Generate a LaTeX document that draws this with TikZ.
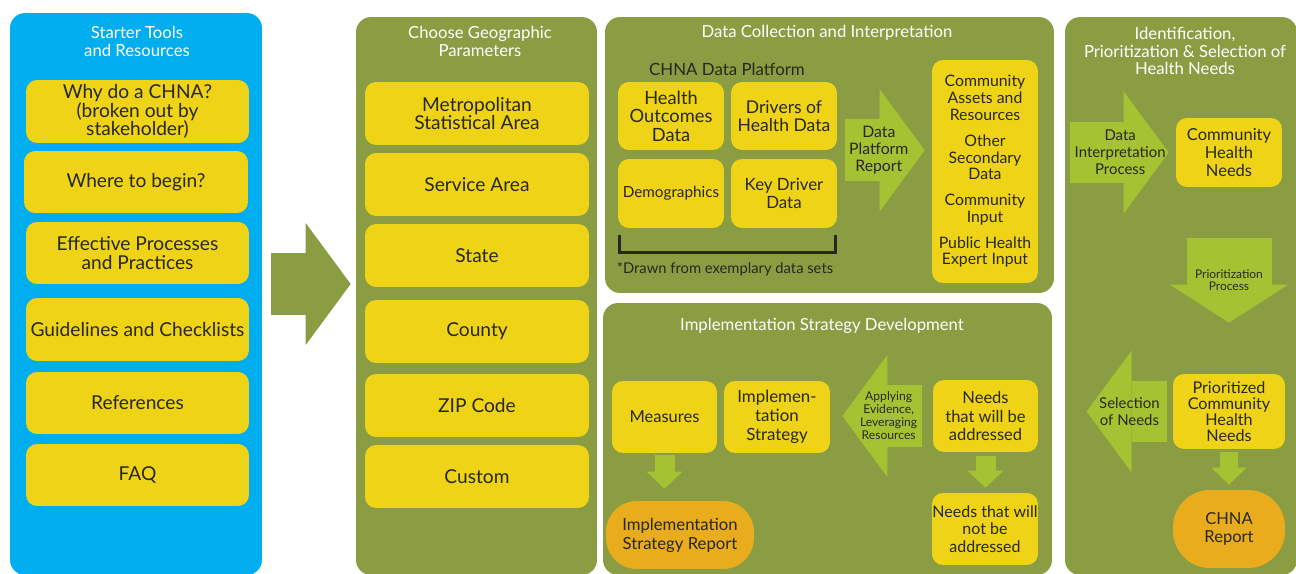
\documentclass[tikz,border=0pt]{standalone}
\usepackage{fontspec}
\setmainfont{Lato}
\usetikzlibrary{arrows.meta}
\definecolor{skyblue}{RGB}{0,174,239}
\definecolor{panelgreen}{RGB}{138,157,66}
\definecolor{leaf}{RGB}{165,194,50}
\definecolor{gold}{RGB}{239,211,22}
\definecolor{amber}{RGB}{232,172,28}
\definecolor{ink}{RGB}{40,40,30}
\tikzstyle{panel} = [rounded corners=0.3cm, inner sep=0pt]
\tikzstyle{title} = [text=white, align=center, inner sep=0pt, font=\fontsize{9.5}{10.2}\selectfont]
\tikzstyle{ybox} = [fill=gold, rounded corners=0.22cm, text=ink, align=center, inner sep=0pt, font=\fontsize{10.9}{10.5}\selectfont]
\tikzstyle{report} = [ybox, fill=amber, rounded corners=0.62cm]
\tikzstyle{arrowtext} = [text=ink, align=center, inner sep=0pt, font=\fontsize{9}{9.6}\selectfont]
\tikzstyle{bigarrow} = [draw=leaf, line width=1.24cm, -{Triangle[width=2.44cm,length=0.9cm,line width=0pt]}]
\tikzstyle{smallarrow} = [draw=leaf, line width=0.4cm, -{Triangle[width=0.72cm,length=0.34cm,line width=0pt]}]

\begin{document}
\begin{tikzpicture}[x=0.02cm, y=-0.02cm]
    \useasboundingbox (0,0) rectangle (1296,574);
    \clip (0,0) rectangle (1296,574);
    \fill[white] (0,0) rectangle (1296,574);
    % panels
    \node[panel, fill=skyblue, minimum width=5.04cm, minimum height=11.24cm] (starter) at (136,294) {};
    \node[panel, fill=panelgreen, minimum width=4.82cm, minimum height=11.16cm] (geo) at (476.5,296) {};
    \node[panel, fill=panelgreen, minimum width=8.98cm, minimum height=5.52cm] (datacol) at (829.5,155) {};
    \node[panel, fill=panelgreen, minimum width=8.98cm, minimum height=5.44cm] (impl) at (827.5,439) {};
    \node[panel, fill=panelgreen, minimum width=4.64cm, minimum height=11.16cm] (ident) at (1181,296) {};
    \node[title] (startertitle) at (137,41) {Starter Tools\\and Resources};
    \node[title] (geotitle) at (480,41) {Choose Geographic\\Parameters};
    \node[title] (datacoltitle) at (827,32.5) {Data Collection and Interpretation};
    \node[title] (impltitle) at (822,325.5) {Implementation Strategy Development};
    \node[title] (identtitle) at (1185,51) {Identification,\\Prioritization \& Selection of\\Health Needs};
    % starter tools
    \node[ybox, minimum width=4.46cm, minimum height=1.26cm] (why) at (137.5,111.5) {Why do a CHNA?\\(broken out by\\stakeholder)};
    \node[ybox, minimum width=4.48cm, minimum height=1.24cm] (where) at (136,182) {Where to begin?};
    \node[ybox, minimum width=4.46cm, minimum height=1.24cm] (effective) at (137.5,253) {Effective Processes\\and Practices};
    \node[ybox, minimum width=4.46cm, minimum height=1.26cm] (guide) at (137.5,329.5) {Guidelines and Checklists};
    \node[ybox, minimum width=4.46cm, minimum height=1.24cm] (refs) at (137.5,403) {References};
    \node[ybox, minimum width=4.46cm, minimum height=1.24cm] (faq) at (137.5,475) {FAQ};
    % geographic parameters
    \node[ybox, minimum width=4.48cm, minimum height=1.26cm] (msa) at (477,113.5) {Metropolitan\\Statistical Area};
    \node[ybox, minimum width=4.48cm, minimum height=1.26cm] (service) at (477,184.5) {Service Area};
    \node[ybox, minimum width=4.48cm, minimum height=1.26cm] (state) at (477,255.5) {State};
    \node[ybox, minimum width=4.48cm, minimum height=1.26cm] (county) at (477,331.5) {County};
    \node[ybox, minimum width=4.48cm, minimum height=1.26cm] (zip) at (477,405.5) {ZIP Code};
    \node[ybox, minimum width=4.48cm, minimum height=1.26cm] (custom) at (477,476.5) {Custom};
    \draw[bigarrow, draw=panelgreen, shorten <=0.18cm, shorten >=0.1cm] ([yshift=0.2cm]starter.east) -- ([yshift=0.2cm]starter.east -| geo.west);
    % data collection
    \node[text=ink, inner sep=0pt, font=\fontsize{9.6}{10}\selectfont] (platform) at (727,69) {CHNA Data Platform};
    \node[ybox, minimum width=2.12cm, minimum height=1.36cm, font=\fontsize{10.4}{10.5}\selectfont] (hod) at (671,116) {Health\\Outcomes\\Data};
    \node[ybox, minimum width=2.12cm, minimum height=1.36cm, font=\fontsize{10}{10.5}\selectfont] (dhd) at (784,116) {Drivers of\\Health Data};
    \node[ybox, minimum width=2.12cm, minimum height=1.38cm, font=\fontsize{8.7}{10}\selectfont] (demo) at (671,193.5) {Demographics};
    \node[ybox, minimum width=2.12cm, minimum height=1.38cm, font=\fontsize{9.6}{10.2}\selectfont] (kdd) at (784,193.5) {Key Driver\\Data};
    \draw[ink, line width=0.06cm] (619,235) -- (619,253) -- (835,253) -- (835,235);
    \node[text=ink, inner sep=0pt, font=\fontsize{8.4}{9}\selectfont] (drawn) at (725,269) {*Drawn from exemplary data sets};
    \node[ybox, minimum width=2.12cm, minimum height=4.46cm, font=\fontsize{9}{9.6}\selectfont] (other) at (985,171.5)
        {Community\\Assets and\\Resources\\[5pt]Other\\Secondary\\Data\\[5pt]Community\\Input\\[5pt]Public Health\\Expert Input};
    \draw[bigarrow, shorten <=0.16cm, shorten >=0.14cm] (dhd.south east) -- node[arrowtext, pos=0.44] (dpr) {Data\\Platform\\Report} (dhd.south east -| other.west);
    % implementation strategy
    \node[ybox, minimum width=2.1cm, minimum height=1.44cm, font=\fontsize{9.4}{10.8}\selectfont] (measures) at (664.5,417) {Measures};
    \node[ybox, minimum width=2.12cm, minimum height=1.44cm, font=\fontsize{9.6}{10.8}\selectfont] (isbox) at (777,417) {Implemen-\\tation\\Strategy};
    \node[ybox, minimum width=2.1cm, minimum height=1.44cm, font=\fontsize{9.4}{10.6}\selectfont] (needs) at (985.5,416) {Needs\\that will be\\addressed};
    \node[ybox, minimum width=2.12cm, minimum height=1.44cm, font=\fontsize{9.1}{9.9}\selectfont] (notneeds) at (985,529) {Needs that will\\not be\\addressed};
    \node[report, minimum width=2.96cm, minimum height=1.36cm, font=\fontsize{9.5}{10.7}\selectfont] (isreport) at (680,535) {Implementation\\Strategy Report};
    \draw[bigarrow, shorten <=0.22cm, shorten >=0.24cm] (needs.west) -- node[arrowtext, pos=0.43, font=\fontsize{6.9}{7.4}\selectfont] (applying) {Applying\\Evidence,\\Leveraging\\Resources} (needs.west -| isbox.east);
    \draw[smallarrow, shorten <=0.04cm, shorten >=0.24cm] (measures.south) -- (measures.south |- isreport.north);
    \draw[smallarrow, shorten <=0.08cm, shorten >=0.1cm] (needs.south) -- (needs.south |- notneeds.north);
    % identification, prioritization and selection
    \node[ybox, minimum width=2.12cm, minimum height=1.38cm, font=\fontsize{9.4}{10}\selectfont] (chn) at (1229,152.5) {Community\\Health\\Needs};
    \node[ybox, minimum width=2.24cm, minimum height=1.5cm, font=\fontsize{9.2}{9.1}\selectfont] (pchn) at (1229,411.5) {Prioritized\\Community\\Health\\Needs};
    \node[report, minimum width=2.24cm, minimum height=1.56cm, rounded corners=0.74cm, font=\fontsize{9.4}{10.2}\selectfont] (chnareport) at (1229,529) {CHNA\\Report};
    \draw[bigarrow, shorten <=0.1cm, shorten >=0.14cm] (ident.west |- chn.west) -- node[arrowtext, font=\fontsize{8.5}{9.6}\selectfont] (dip) {Data\\Interpretation\\Process} (chn.west);
    \draw[bigarrow, line width=1.7cm, -{Triangle[width=2.36cm,length=0.76cm,line width=0pt]}, shorten <=1.02cm, shorten >=1.02cm] (chn.south) -- node[arrowtext, font=\fontsize{6.8}{6.8}\selectfont] (prio) {Prioritization\\Process} (pchn.north);
    \draw[bigarrow, shorten <=0.12cm, shorten >=0.44cm] (pchn.west) -- node[arrowtext, pos=0.4, font=\fontsize{8.5}{9.6}\selectfont] (selection) {Selection\\of Needs} (ident.west |- pchn.west);
    \draw[smallarrow, line width=0.36cm, -{Triangle[width=0.7cm,length=0.34cm,line width=0pt]}, shorten <=0.06cm, shorten >=0.1cm] (pchn.south) -- (chnareport.north);
\end{tikzpicture}
\end{document}
